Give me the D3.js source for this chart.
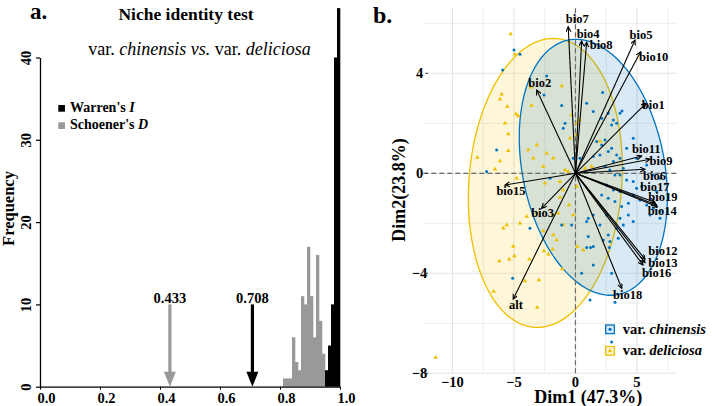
<!DOCTYPE html>
<html><head><meta charset="utf-8">
<script src="https://cdn.jsdelivr.net/npm/d3@7"></script>
<style>
body{margin:0;background:#fff}
svg{display:block}
text{font-family:"Liberation Serif","Times New Roman",serif;}
</style>
</head><body>
<svg id="c" width="712" height="406"></svg>
<script>
// ---------------- Panel a data ----------------
const schoenerBinStart = [0.81,0.82,0.83,0.84,0.85,0.86,0.87,0.88,0.89,0.90,0.91,0.92,0.93,0.94];
const schoenerCounts   = [1,1,1,6,3,2,11,10,17,11,6,16,8,4];
const warrenBinStart   = [0.95,0.96,0.97,0.98,0.99];
const warrenCounts     = [2,5,10,40,46];
const binWidth = 0.01;
const observedLabels = ["0.433","0.708"];
const observedValues = [0.433,0.708];
const observedMetric = ["D","I"];
const freqTicks = [0,10,20,30,40];
const overlapTicks = [0,0.2,0.4,0.6,0.8,1.0];

// ---------------- Panel b data ----------------
const varNames = ["bio7","bio4","bio8","bio5","bio10","bio1","bio2","bio11","bio9","bio6","bio17","bio19","bio14","bio15","bio3","bio12","bio13","bio16","bio18","alt"];
const varDim1  = [-0.59,0.5,0.91,4.84,5.3,5.73,-3.15,5.38,6.06,5.65,6.46,6.6,6.65,-5.73,-2.75,5.65,5.65,5.49,3.76,-5.06];
const varDim2  = [5.86,5.29,5.24,5.33,4.86,2.8,3.33,0.69,0.56,0.16,-1.16,-1.27,-1.34,-0.47,-1.4,-3.43,-3.57,-3.67,-4.6,-5.03];

const chinensisPts = [
[-5.0,4.93],[-4.51,4.76],[-5.92,4.13],[-2.34,3.89],[-2.56,3.13],[2.21,3.23],[-1.12,2.71],[0.91,2.8],[1.45,2.47],[2.67,2.4],[3.62,2.4],[3.78,2.49],[3.08,2.13],[-0.85,2.0],[2.13,2.2],[2.94,1.93],[3.35,2.0],[-0.99,1.8],
[1.72,1.27],[2.13,1.13],[2.4,1.33],[2.67,0.87],[2.94,1.0],[3.35,0.73],[1.99,0.73],[1.45,0.67],[3.08,0.47],[3.62,0.6],[3.89,0.2],[2.4,0.27],[2.8,0.13],[3.21,-0.07],[3.62,-0.07],[4.16,-0.27],[4.7,-0.33],[4.97,-0.6],[5.38,-0.53],[2.53,-0.47],[3.08,-0.67],[3.62,-0.73],[2.13,-0.87],[2.67,-1.0],[3.21,-1.13],[3.75,-1.33],[4.3,-1.2],[4.7,-0.87],[5.24,-1.07],[5.79,-1.27],[6.33,-1.4],[6.87,-1.53],[4.3,-1.67],[3.62,-1.8],[2.53,-1.67],[1.99,-2.07],[2.67,-2.47],[3.35,-2.2],[3.89,-2.07],[4.7,-1.93],[2.26,-2.67],[2.8,-2.73],[3.48,-2.6],[4.16,1.0],[4.97,0.6],[5.79,0.33],[6.33,-0.07],[6.87,-0.2],[6.6,-0.73],[6.06,-1.67],[6.87,-1.8],[4.7,1.4],[1.45,-1.67],[0.91,-1.93],[1.04,-2.53],[-0.18,0.6],[0.37,0.6],[-2.07,-0.2],[-6.41,0.93],[-7.22,0.07],
[-5.11,-4.2],[0.91,-2.97],[1.23,-2.97],[1.45,-3.67],[0.5,-4.0],[1.18,-5.07],[2.94,-4.0],[3.21,-5.16],[2.75,-2.97],[2.94,-6.75],[-3.7,-2.2],[-1.12,-2.07],[-0.31,-2.07],[1.04,-1.8],[1.45,-2.93]
];
const deliciosaPts = [
[-5.27,5.57],[-4.92,4.76],[-1.12,3.49],[-3.62,3.44],[-6.0,3.16],[-6.14,2.96],[-5.54,2.67],[-3.56,2.71],[-4.84,2.37],[-4.65,2.29],[-5.73,2.0],[0.1,2.0],[-0.31,2.33],[0.31,2.13],
[-5.46,0.9],[-6.14,0.49],[-7.98,0.63],[-6.54,0.16],[-4.78,-0.2],[-5.46,1.57],[-3.15,1.13],[-3.43,0.6],[-3.84,0.93],[-2.34,0.8],[-2.62,0.27],[-1.8,0.6],[-2.48,-0.4],[-1.26,-0.34],[-0.99,-0.67],[-0.45,1.4],[-0.85,0.13],[-0.6,0.07],[-3.15,-1.6],[-1.8,-1.67],[-1.4,-1.6],[-0.99,-2.07],[-5.59,-2.07],[-4.51,-2.0],[-2.62,-2.31],[-1.8,-2.47],[-1.53,-2.67],[-0.18,-1.67],[0.77,0.2],[1.32,0.27],[0.1,-0.53],[-0.53,-1.27],[-1.26,-0.97],[0.1,1.53],[1.99,1.27],
[-5.05,-2.93],[-6.19,-3.51],[-5.38,-3.44],[-4.97,-3.31],[-3.75,-3.44],[-2.56,-3.11],[-2.21,-3.24],[-1.86,-3.04],[-1.07,-3.83],[0.15,-2.93],[0.64,-3.07],[-4.11,-4.31],[-2.97,-4.27],[-6.65,-4.73],[-3.1,-5.37],[-11.37,-7.37],[-5.87,-2.2],[-3.97,-1.73]
];
// concentration ellipses: [cx, cy, a, b, c] with x = cx + a cos t, y = cy + c cos t + b sin t
const chinensisEllipse = [1.45, 0.24, 6.02, 4.98, -1.19];
const deliciosaEllipse = [-2.45, -0.385, 6.26, 5.75, 0.6];
const dimTicksX = [-10,-5,0,5];
const dimMinorX = [-7.5,-2.5,2.5,7.5];
const dimTicksY = [-8,-4,0,4];
const dimMinorY = [-6,-2,2,6];

// layout: label nudges (px) from arrow tip
const labelNudge = {bio7:[9,-3.4],bio4:[6.5,-2.7],bio8:[14.5,7],bio5:[6,-1],bio10:[13,9.3],bio1:[7.3,6],bio2:[3,-3.3],
 bio11:[4.7,-3.3],bio9:[11,5.7],bio6:[9.5,10.7],bio17:[0,-11],bio19:[6.3,-4],bio14:[5,7.7],bio15:[6,10],bio3:[1,8.4],
 bio12:[18,-4],bio13:[18,4.2],bio16:[13.7,11.7],bio18:[6,10.7],alt:[2.7,10]};

const BLUE="#0073C2", YEL="#EFC000";
const svg = d3.select("#c");

// ================= Panel a =================
const xa = d3.scaleLinear().domain([0,1]).range([40,340]);
const ya = d3.scaleLinear().domain([0,40]).range([386.7,57.5]);
const ga = svg.append("g");

ga.selectAll("rect.d").data(schoenerCounts).join("rect")
  .attr("x",(d,i)=>xa(schoenerBinStart[i])).attr("width",(d,i)=>xa(schoenerBinStart[i]+binWidth)-xa(schoenerBinStart[i])+0.3)
  .attr("y",d=>ya(d)).attr("height",d=>ya(0)-ya(d)).attr("fill","#999999");
ga.selectAll("rect.i").data(warrenCounts).join("rect")
  .attr("x",(d,i)=>xa(warrenBinStart[i])).attr("width",(d,i)=>xa(warrenBinStart[i]+binWidth)-xa(warrenBinStart[i])+0.3)
  .attr("y",d=>ya(d)).attr("height",d=>ya(0)-ya(d)).attr("fill","#000");

// axes
const yAxA = ga.append("g").attr("transform","translate(40,0)")
  .call(d3.axisLeft(ya).tickValues(freqTicks).tickSize(4).tickSizeOuter(0));
yAxA.select(".domain").attr("stroke-width",1.3);
yAxA.selectAll("line").attr("stroke-width",1.2);
yAxA.selectAll("text").attr("transform","rotate(-90)").attr("x",0).attr("y",-9.5).attr("dy",0)
  .attr("text-anchor","middle").style("font-family","Liberation Serif").style("font-weight","bold").style("font-size","14.5px").attr("fill","#000");
const xAxA = ga.append("g").attr("transform","translate(0,386.7)")
  .call(d3.axisBottom(xa).tickValues(overlapTicks).tickSize(3).tickSizeOuter(0).tickFormat(d3.format(".1f")));
xAxA.select(".domain").attr("stroke-width",1.3);
xAxA.selectAll("text").attr("y",16.8).attr("dy",0).attr("dx",6)
  .style("font-family","Liberation Serif").style("font-weight","bold").style("font-size","14.5px").attr("fill","#000");

// observed arrows
observedValues.forEach((v,i)=>{
  const col = observedMetric[i]==="D" ? "#999999" : "#000";
  const x = xa(v), yTop = ya(10), yBot = ya(0);
  ga.append("line").attr("x1",x).attr("x2",x).attr("y1",yTop).attr("y2",yBot-12).attr("stroke",col).attr("stroke-width",3.2);
  ga.append("path").attr("d",`M${x-6},${yBot-15}L${x+6},${yBot-15}L${x},${yBot}Z`).attr("fill",col);
  ga.append("text").attr("x",x).attr("y",yTop-1.5).attr("text-anchor","middle")
    .style("font-weight","bold").style("font-size","14.5px").text(observedLabels[i]);
});

// titles
ga.append("text").attr("x",30).attr("y",18.5).style("font-weight","bold").style("font-size","23px").text("a.");
ga.append("text").attr("x",186).attr("y",19.5).attr("text-anchor","middle").style("font-weight","bold").style("font-size","17.5px").text("Niche identity test");
const sub = ga.append("text").attr("x",199.5).attr("y",55).attr("text-anchor","middle").style("font-size","18px");
sub.append("tspan").text("var. ");
sub.append("tspan").style("font-style","italic").text("chinensis vs.");
sub.append("tspan").text(" var. ");
sub.append("tspan").style("font-style","italic").text("deliciosa");
ga.append("text").attr("transform","translate(14,208.5) rotate(-90)").attr("text-anchor","middle")
  .style("font-weight","bold").style("font-size","16.5px").text("Frequency");

// legend a
[["#000","Warren's ","I",111.7],["#999999","Schoener's ","D",129]].forEach(([c,t,it,yb])=>{
  ga.append("rect").attr("x",58.3).attr("y",yb-6.7).attr("width",6.7).attr("height",6.7).attr("fill",c);
  const tx = ga.append("text").attr("x",70).attr("y",yb).style("font-weight","bold").style("font-size","14px");
  tx.append("tspan").text(t); tx.append("tspan").style("font-style","italic").text(it);
});

// ================= Panel b =================
const xb = d3.scaleLinear().domain([-12.37,8.23]).range([423.3,676.7]);
const yb = d3.scaleLinear().domain([-8.0,6.6]).range([373.3,8.3]);
const gb = svg.append("g");
const [X0,X1] = xb.range(), [Y0,Y1] = yb.range();

// grid
gb.selectAll("line.vmin").data(dimMinorX).join("line").attr("x1",d=>xb(d)).attr("x2",d=>xb(d)).attr("y1",Y1).attr("y2",Y0).attr("stroke","#ececec").attr("stroke-width",0.9);
gb.selectAll("line.hmin").data(dimMinorY).join("line").attr("y1",d=>yb(d)).attr("y2",d=>yb(d)).attr("x1",X0).attr("x2",X1).attr("stroke","#ececec").attr("stroke-width",0.9);
gb.selectAll("line.vmaj").data(dimTicksX).join("line").attr("x1",d=>xb(d)).attr("x2",d=>xb(d)).attr("y1",Y1).attr("y2",Y0).attr("stroke","#e4e4e4").attr("stroke-width",1.1);
gb.selectAll("line.hmaj").data(dimTicksY).join("line").attr("y1",d=>yb(d)).attr("y2",d=>yb(d)).attr("x1",X0).attr("x2",X1).attr("stroke","#e4e4e4").attr("stroke-width",1.1);

// ellipses
function ellipsePath(p){
  const [cx,cy,a,b,c]=p;
  const pts = d3.range(0,121).map(k=>{const t=k/120*2*Math.PI; return [xb(cx+a*Math.cos(t)), yb(cy+c*Math.cos(t)+b*Math.sin(t))];});
  return d3.line()(pts)+"Z";
}
gb.append("path").attr("d",ellipsePath(deliciosaEllipse)).attr("fill",YEL).attr("fill-opacity",0.15).attr("stroke",YEL).attr("stroke-width",1.3);
gb.append("path").attr("d",ellipsePath(chinensisEllipse)).attr("fill",BLUE).attr("fill-opacity",0.15).attr("stroke",BLUE).attr("stroke-width",1.3);

// dashed zero lines
gb.append("line").attr("x1",X0).attr("x2",X1).attr("y1",yb(0)).attr("y2",yb(0)).attr("stroke","#6a6a6a").attr("stroke-width",1.2).attr("stroke-dasharray","5,3");
gb.append("line").attr("x1",xb(0)).attr("x2",xb(0)).attr("y1",Y1).attr("y2",Y0).attr("stroke","#6a6a6a").attr("stroke-width",1.2).attr("stroke-dasharray","5,3");

// points
const tri = d3.symbol().type(d3.symbolTriangle).size(9);
gb.selectAll("path.dl").data(deliciosaPts).join("path").attr("d",tri)
  .attr("transform",d=>`translate(${xb(d[0])},${yb(d[1])})`).attr("fill",YEL);
gb.selectAll("circle.ch").data(chinensisPts).join("circle")
  .attr("cx",d=>xb(d[0])).attr("cy",d=>yb(d[1])).attr("r",1.5).attr("fill",BLUE);

// arrows
svg.append("defs").append("marker").attr("id","ah").attr("markerUnits","userSpaceOnUse")
  .attr("markerWidth",8).attr("markerHeight",8).attr("refX",5).attr("refY",2.5).attr("orient","auto")
  .append("path").attr("d","M0,0L5,2.5L0,5").attr("fill","none").attr("stroke","#000").attr("stroke-width",1.1);
varNames.forEach((n,i)=>{
  gb.append("line").attr("x1",xb(0)).attr("y1",yb(0)).attr("x2",xb(varDim1[i])).attr("y2",yb(varDim2[i]))
    .attr("stroke","#000").attr("stroke-width",1.1).attr("marker-end","url(#ah)");
});
varNames.forEach((n,i)=>{
  const nd = labelNudge[n];
  gb.append("text").attr("x",xb(varDim1[i])+nd[0]).attr("y",yb(varDim2[i])+nd[1]).attr("text-anchor","middle")
    .style("font-weight","bold").style("font-size","12.5px").text(n);
});

// axis labels b
gb.selectAll("text.xt").data(dimTicksX).join("text").attr("x",d=>xb(d)).attr("y",386.5).attr("text-anchor","middle")
  .style("font-weight","bold").style("font-size","14.5px").text(d=>d<0?"\u2212"+Math.abs(d):d);
gb.selectAll("text.yt").data(dimTicksY).join("text").attr("x",419.5).attr("y",d=>yb(d)+5).attr("text-anchor","middle")
  .style("font-weight","bold").style("font-size","14.5px").text(d=>d<0?"\u2212"+Math.abs(d):d);
gb.selectAll("line.yt").data(dimTicksY).join("line").attr("x1",425.5).attr("x2",428).attr("y1",d=>yb(d)).attr("y2",d=>yb(d)).attr("stroke","#333").attr("stroke-width",1);
gb.append("text").attr("x",588.3).attr("y",403).attr("text-anchor","middle").style("font-weight","bold").style("font-size","18px").text("Dim1 (47.3%)");
gb.append("text").attr("transform","translate(405,190) rotate(-90)").attr("text-anchor","middle").style("font-weight","bold").style("font-size","18px").text("Dim2(23.8%)");
gb.append("text").attr("x",373).attr("y",22.7).style("font-weight","bold").style("font-size","24px").text("b.");

// legend b
const lg = gb.append("g");
lg.append("rect").attr("x",605.7).attr("y",325).attr("width",8.6).attr("height",8.6).attr("fill",BLUE).attr("fill-opacity",0.15).attr("stroke",BLUE).attr("stroke-width",1.3);
lg.append("circle").attr("cx",610).attr("cy",329.3).attr("r",1.6).attr("fill",BLUE);
lg.append("rect").attr("x",605.7).attr("y",346.5).attr("width",8.6).attr("height",8.6).attr("fill",YEL).attr("fill-opacity",0.15).attr("stroke",YEL).attr("stroke-width",1.3);
lg.append("path").attr("d",tri).attr("transform","translate(610,351)").attr("fill",YEL);
[["chinensis",333.5],["deliciosa",355]].forEach(([n,yy])=>{
  const t = lg.append("text").attr("x",622.7).attr("y",yy).style("font-weight","bold").style("font-size","14.5px");
  t.append("tspan").text("var. "); t.append("tspan").style("font-style","italic").text(n);
});
</script>
</body></html>
